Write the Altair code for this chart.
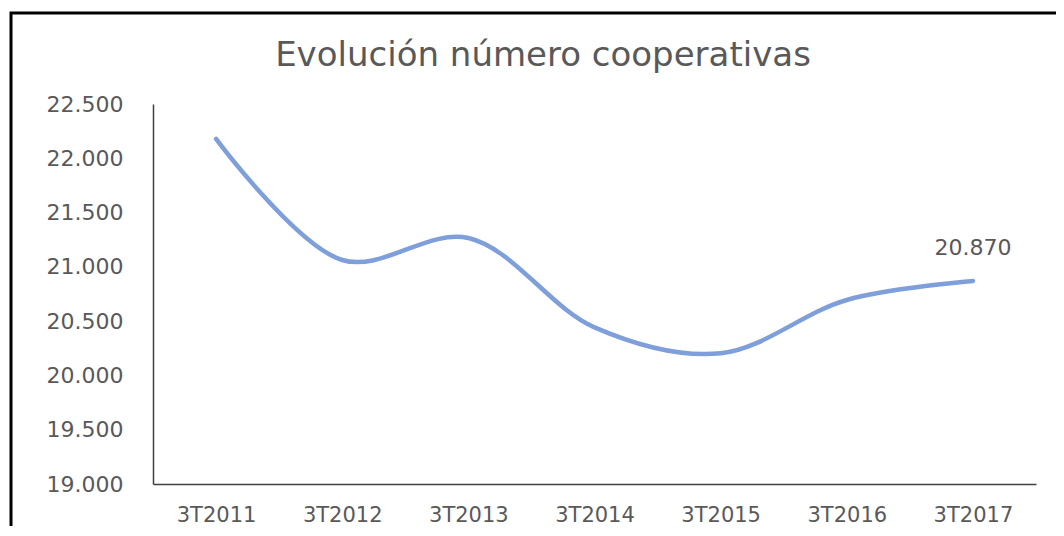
import altair as alt
import pandas as pd

title_text = "Evolución número cooperativas"
periods = ["3T2011", "3T2012", "3T2013", "3T2014", "3T2015", "3T2016", "3T2017"]
values = [22178, 21063, 21266, 20443, 20204, 20695, 20870]
label_period = ["3T2017"]
label_value = [20870]

df = pd.DataFrame({"periodo": periods, "cooperativas": values})
df_lab = pd.DataFrame({"periodo": label_period, "cooperativas": label_value})

TXT = "#595959"
FONT = "DejaVu Sans"

x_enc = alt.X("periodo:O", sort=periods,
              scale=alt.Scale(type="point", padding=0.5),
              axis=alt.Axis(title=None, labelAngle=0, ticks=False, labelPadding=20,
                            labelFontSize=21, labelColor=TXT, labelFont=FONT,
                            domainColor="#404040", domainWidth=1.5, grid=False))
y_enc = alt.Y("cooperativas:Q",
              scale=alt.Scale(domain=[19000, 22500], nice=False, zero=False),
              axis=alt.Axis(title=None, values=list(range(19000, 22501, 500)), format=",.0f",
                            ticks=False, labelPadding=30, labelFontSize=22, labelColor=TXT,
                            labelFont=FONT, domainColor="#404040", domainWidth=1.5, grid=False))

line = alt.Chart(df).mark_line(interpolate="catmull-rom", color="#7f9fdb", strokeWidth=4.5,
                               strokeCap="round").encode(x=x_enc, y=y_enc)

lab = alt.Chart(df_lab).mark_text(dy=-33, fontSize=22, color=TXT, font=FONT).encode(
    x=alt.X("periodo:O", sort=periods), y="cooperativas:Q",
    text=alt.Text("cooperativas:Q", format=",.0f"))

one = pd.DataFrame({"t": [title_text]})

frame = alt.Chart(one).mark_rect(fillOpacity=0, stroke="black", strokeWidth=3).encode(
    x=alt.value(-142), x2=alt.value(1000), y=alt.value(-91), y2=alt.value(600))

title = alt.Chart(one).mark_text(fontSize=34, font=FONT, color=TXT, baseline="alphabetic",
                                 align="center").encode(
    x=alt.value(390), y=alt.value(-38), text="t:N")

chart = alt.layer(frame, title, line, lab).properties(
    width=883, height=380,
    autosize=alt.AutoSizeParams(type="none"),
    padding={"left": 145, "top": 96, "right": 20, "bottom": 42},
).configure(
    background="white",
    locale={"number": {"decimal": ",", "thousands": ".", "grouping": [3], "currency": ["", "€"]}},
).configure_view(stroke=None)

chart.save("out.html", embed_options={"renderer": "svg", "actions": False})
